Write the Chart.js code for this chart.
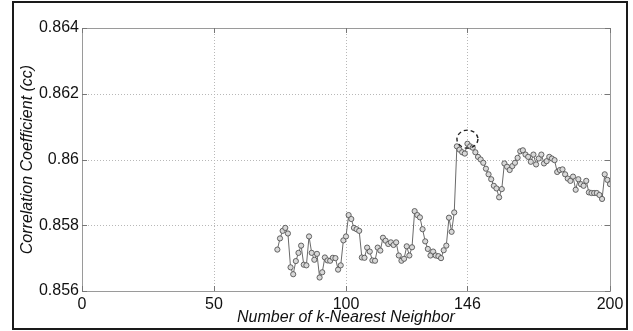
<!DOCTYPE html>
<html><head><meta charset="utf-8">
<script src="https://cdn.jsdelivr.net/npm/chart.js@4"></script>
<style>html,body{margin:0;padding:0;background:#fff}#wrap{width:633px;height:331px}</style>
</head><body><div id="wrap"><canvas id="c" width="633" height="331"></canvas></div>
<script>
const kValues = [74,75,76,77,78,79,80,81,82,83,84,85,86,87,88,89,90,91,92,93,94,95,96,97,98,99,
100,101,102,103,104,105,106,107,108,109,110,111,112,113,114,115,116,117,118,119,120,121,122,123,124,125,
126,127,128,129,130,131,132,133,134,135,136,137,138,139,140,141,142,143,144,145,146,147,148,149,150,
151,152,153,154,155,156,157,158,159,160,161,162,163,164,165,166,167,168,169,170,171,172,173,174,175,
176,177,178,179,180,181,182,183,184,185,186,187,188,189,190,191,192,193,194,195,196,197,198,199,200];
const ccValues = [
0.85726,0.85760,0.85783,0.85792,0.85775,0.85672,0.85651,0.85691,0.85716,0.85738,
0.85680,0.85678,0.85766,0.85716,0.85695,0.85713,0.85641,0.85657,0.85702,0.85693,
0.85692,0.85701,0.85700,0.85665,0.85678,0.85754,0.85766,0.85831,0.85819,0.85792,
0.85788,0.85783,0.85702,0.85701,0.85732,0.85720,0.85693,0.85692,0.85732,0.85723,
0.85762,0.85753,0.85743,0.85748,0.85740,0.85748,0.85708,0.85692,0.85698,0.85736,
0.85708,0.85733,0.85843,0.85831,0.85824,0.85788,0.85751,0.85728,0.85708,0.85720,
0.85708,0.85706,0.85700,0.85724,0.85738,0.85823,0.85780,0.85839,
0.86040,0.86030,0.86022,0.86018,0.86048,0.86040,0.86036,0.86022,0.86008,0.86000,
0.85990,0.85972,0.85955,0.85940,0.85920,0.85912,0.85885,0.85910,0.85988,0.85978,
0.85968,0.85980,0.85990,0.86005,0.86025,0.86028,0.86015,0.86008,0.85993,0.86015,
0.85985,0.86003,0.86015,0.85988,0.85995,0.86008,0.86003,0.85998,0.85962,0.85968,
0.85970,0.85955,0.85942,0.85935,0.85948,0.85908,0.85940,0.85925,0.85920,0.85935,
0.85900,0.85898,0.85898,0.85898,0.85892,0.85880,0.85955,0.85938,0.85925];
const xTicks = [0, 50, 100, 146, 200];
const xTickLabels = ['0', '50', '100', '146', '200'];
const yTicks = [0.856, 0.858, 0.860, 0.862, 0.864];
const yTickLabels = ['0.856', '0.858', '0.86', '0.862', '0.864'];
const highlightK = 146;
const highlightCc = 0.86062;

const FONT = 'Liberation Sans, Arial, sans-serif';

const decor = {
  id: 'decor',
  beforeDatasetsDraw(chart) {
    const {ctx, chartArea: a, scales: {x, y}} = chart;
    ctx.save();
    ctx.strokeStyle = '#b8b8b8';
    ctx.lineWidth = 1;
    ctx.setLineDash([1, 2]);
    xTicks.forEach(v => {
      if (v === 0 || v === 200) return;
      const px = Math.round(x.getPixelForValue(v)) + 0.5;
      ctx.beginPath(); ctx.moveTo(px, a.top); ctx.lineTo(px, a.bottom); ctx.stroke();
    });
    yTicks.forEach((v, i) => {
      if (i === 0 || i === yTicks.length - 1) return;
      const py = Math.round(y.getPixelForValue(v)) + 0.5;
      ctx.beginPath(); ctx.moveTo(a.left, py); ctx.lineTo(a.right, py); ctx.stroke();
    });
    ctx.restore();
  },
  afterDraw(chart) {
    const {ctx, chartArea: a, scales: {x, y}} = chart;
    ctx.save();
    // plot box
    ctx.strokeStyle = '#9a9a9a';
    ctx.lineWidth = 1;
    ctx.setLineDash([]);
    ctx.strokeRect(Math.round(a.left) + 0.5, Math.round(a.top) + 0.5,
      Math.round(a.right - a.left), Math.round(a.bottom - a.top));
    // inward ticks
    ctx.strokeStyle = '#777';
    const tl = 5;
    xTicks.forEach(v => {
      const px = Math.round(x.getPixelForValue(v)) + 0.5;
      ctx.beginPath(); ctx.moveTo(px, a.bottom); ctx.lineTo(px, a.bottom - tl); ctx.stroke();
      ctx.beginPath(); ctx.moveTo(px, a.top); ctx.lineTo(px, a.top + tl); ctx.stroke();
    });
    yTicks.forEach(v => {
      const py = Math.round(y.getPixelForValue(v)) + 0.5;
      ctx.beginPath(); ctx.moveTo(a.left, py); ctx.lineTo(a.left + tl, py); ctx.stroke();
      ctx.beginPath(); ctx.moveTo(a.right, py); ctx.lineTo(a.right - tl, py); ctx.stroke();
    });
    // dashed highlight ellipse
    const cx = x.getPixelForValue(highlightK);
    const cy = y.getPixelForValue(highlightCc);
    ctx.strokeStyle = '#222';
    ctx.lineWidth = 1.4;
    ctx.setLineDash([4, 3]);
    ctx.beginPath(); ctx.ellipse(cx, cy, 10.5, 9, 0, 0, Math.PI * 2); ctx.stroke();
    // outer frame
    ctx.setLineDash([]);
    ctx.strokeStyle = '#1a1a1a';
    ctx.lineWidth = 2;
    ctx.strokeRect(13, 2, 614, 327);
    ctx.restore();
  }
};

new Chart(document.getElementById('c'), {
  type: 'line',
  data: {
    datasets: [{
      data: kValues.map((k, i) => ({x: k, y: ccValues[i]})),
      borderColor: '#6a6a6a',
      borderWidth: 1,
      pointRadius: 2.6,
      pointBorderWidth: 0.9,
      pointBorderColor: '#555',
      pointBackgroundColor: '#d8d8d8',
      tension: 0,
      fill: false
    }]
  },
  options: {
    responsive: false,
    animation: false,
    devicePixelRatio: 1,
    layout: {padding: {top: 28, right: 23, left: 0, bottom: 0}},
    plugins: {legend: {display: false}, tooltip: {enabled: false}},
    scales: {
      x: {
        type: 'linear', min: 0, max: 200,
        afterBuildTicks: s => { s.ticks = xTicks.map(v => ({value: v})); },
        afterFit: s => { s.height = 40; },
        grid: {display: false, drawTicks: false},
        border: {display: false},
        ticks: {
          padding: 4, color: '#111', font: {family: FONT, size: 16},
          maxRotation: 0, autoSkip: false,
          callback: (v) => xTickLabels[xTicks.indexOf(v)]
        },
        title: {
          display: true, text: 'Number of k-Nearest Neighbor', color: '#111',
          font: {family: FONT, size: 16, style: 'italic'}, padding: {top: 4, bottom: 4}
        }
      },
      y: {
        type: 'linear', min: 0.856, max: 0.864,
        afterBuildTicks: s => { s.ticks = yTicks.map(v => ({value: v})); },
        afterFit: s => { s.width = 82; },
        grid: {display: false, drawTicks: false},
        border: {display: false},
        ticks: {
          padding: 3, color: '#111', font: {family: FONT, size: 16}, autoSkip: false,
          callback: (v) => { const i = yTicks.findIndex(t => Math.abs(t - v) < 1e-9); return yTickLabels[i]; }
        },
        title: {
          display: true, text: 'Correlation Coefficient (cc)', color: '#111',
          font: {family: FONT, size: 16, style: 'italic'}, padding: {top: 18, bottom: 18}
        }
      }
    }
  },
  plugins: [decor]
});
</script></body></html>
